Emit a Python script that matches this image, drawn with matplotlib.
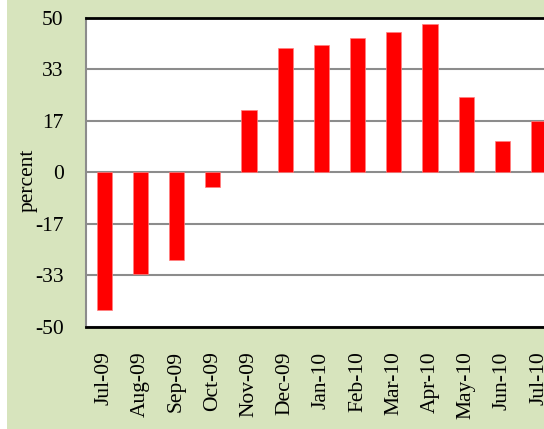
import matplotlib
matplotlib.use("Agg")
import matplotlib.pyplot as plt
from matplotlib.patches import Rectangle
import numpy as np

months = ["Jul-09", "Aug-09", "Sep-09", "Oct-09", "Nov-09", "Dec-09", "Jan-10",
          "Feb-10", "Mar-10", "Apr-10", "May-10", "Jun-10", "Jul-10"]
values = [-44.6, -33.0, -28.6, -4.7, 20.3, 40.3, 41.1, 43.6, 45.6, 48.2, 24.4, 10.1, 16.6]
yticks = [-50, -33.33, -16.67, 0, 16.67, 33.33, 50]
ytick_labels = ["-50", "-33", "-17", "0", "17", "33", "50"]

plt.rcParams['font.family'] = ['Liberation Serif', 'DejaVu Serif']

W, H = 544, 429
fig = plt.figure(figsize=(W / 100, H / 100), dpi=100)
fig.patch.set_facecolor("#d7e4bd")
fig.patches.append(Rectangle((0, 0), 7 / W, 1, transform=fig.transFigure,
                             facecolor="white", edgecolor="none", zorder=0))

left, right, top, bottom = 86, 556.7, 18, 326.5
ax = fig.add_axes([left / W, 1 - bottom / H, (right - left) / W, (bottom - top) / H])
ax.set_facecolor("white")

x = np.arange(len(months))
ax.bar(x, values, width=0.42, color="#ff0000", edgecolor="#ff8080", linewidth=0.5, zorder=3)

ax.set_xlim(-0.5, len(months) - 0.5)
ax.set_ylim(-50, 50)
ax.set_yticks(yticks)
ax.set_yticklabels(ytick_labels)
ax.set_xticks(x)
ax.set_xticklabels(months, rotation=90)
ax.tick_params(axis="both", length=0, labelsize=15.5)
ax.tick_params(axis="y", pad=16)
ax.tick_params(axis="x", pad=18)

ax.grid(axis="y", color="#8c8c8c", linewidth=1.5, zorder=1)
ax.set_axisbelow(True)

for s in ["top", "bottom"]:
    ax.spines[s].set_color("black")
    ax.spines[s].set_linewidth(2)
ax.spines["left"].set_color("#8c8c8c")
ax.spines["left"].set_linewidth(1.5)
ax.spines["right"].set_visible(False)

fig.text(28 / W, 1 - 180 / H, "percent", rotation=90, ha="center", va="center", fontsize=15.5)

fig.savefig("out.png", dpi=100, facecolor=fig.get_facecolor())
